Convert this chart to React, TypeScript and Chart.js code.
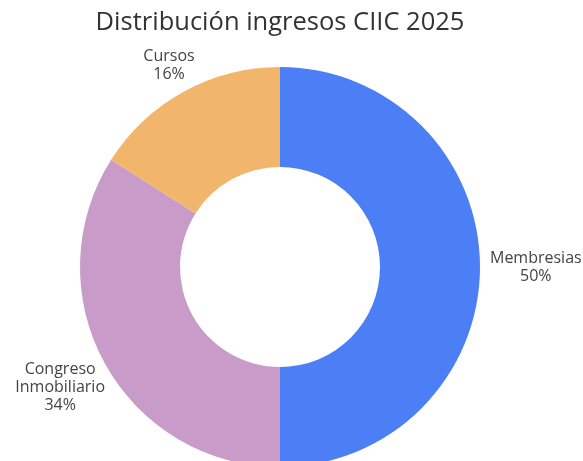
import React, { useEffect, useRef } from "react";
import { Chart, registerables } from "chart.js";

Chart.register(...registerables);

const TITLE = "Distribución ingresos CIIC 2025";
const categories = ["Membresias", "Congreso Inmobiliario", "Cursos"];
const labelLines = [["Membresias"], ["Congreso", "Inmobiliario"], ["Cursos"]];
const values = [50, 34, 16];
const colors = ["#4C7EF6", "#C89BC8", "#F2B56C"];

const FONT = "'Open Sans', 'DejaVu Sans', sans-serif";

const outsideLabels = {
  id: "outsideLabels",
  afterDatasetsDraw(chart: any) {
    const ctx = chart.ctx;
    const meta = chart.getDatasetMeta(0);
    const total = values.reduce((a, b) => a + b, 0);
    ctx.save();
    ctx.font = `16px ${FONT}`;
    ctx.fillStyle = "#444444";
    ctx.textAlign = "center";
    ctx.textBaseline = "middle";
    const lh = 18;
    meta.data.forEach((arc: any, i: number) => {
      const { x, y, startAngle, endAngle, outerRadius } = arc.getProps(
        ["x", "y", "startAngle", "endAngle", "outerRadius"],
        true
      );
      const mid = (startAngle + endAngle) / 2;
      const cx = Math.cos(mid);
      const cy = Math.sin(mid);
      const lines = [...labelLines[i], `${Math.round((values[i] / total) * 100)}%`];
      const w = Math.max(...lines.map((l) => ctx.measureText(l).width));
      const h = lines.length * lh;
      const dist = outerRadius + 21 + 0.76 * Math.abs(cx) * (w / 2);
      const px = x + cx * dist;
      const py = y + cy * dist;
      lines.forEach((l, k) => {
        ctx.fillText(l, px, py - h / 2 + lh / 2 + k * lh);
      });
    });
    ctx.restore();
  },
};

export default function App() {
  const ref = useRef<HTMLCanvasElement>(null);
  useEffect(() => {
    if (!ref.current) return;
    const chart = new Chart(ref.current, {
      type: "doughnut",
      data: {
        labels: categories,
        datasets: [
          {
            data: values,
            backgroundColor: colors,
            borderWidth: 0,
          },
        ],
      },
      options: {
        animation: false,
        responsive: false,
        cutout: "50%",
        layout: { padding: { top: 0, left: 80, right: 103, bottom: 13 } },
        plugins: {
          legend: { display: false },
          tooltip: { enabled: false },
          title: {
            display: true,
            text: TITLE,
            color: "#333333",
            font: { family: FONT, size: 25.5, weight: "normal" as any, lineHeight: 1.2 },
            padding: { top: 7, bottom: 29.4 },
          },
        },
      },
      plugins: [outsideLabels],
    });
    return () => chart.destroy();
  }, []);
  return (
    <div
      style={{
        position: "absolute",
        left: 0,
        top: 0,
        width: 583,
        height: 461,
        overflow: "hidden",
        background: "#ffffff",
      }}
    >
      <canvas ref={ref} width={583} height={480} style={{ width: 583, height: 480 }} />
    </div>
  );
}
